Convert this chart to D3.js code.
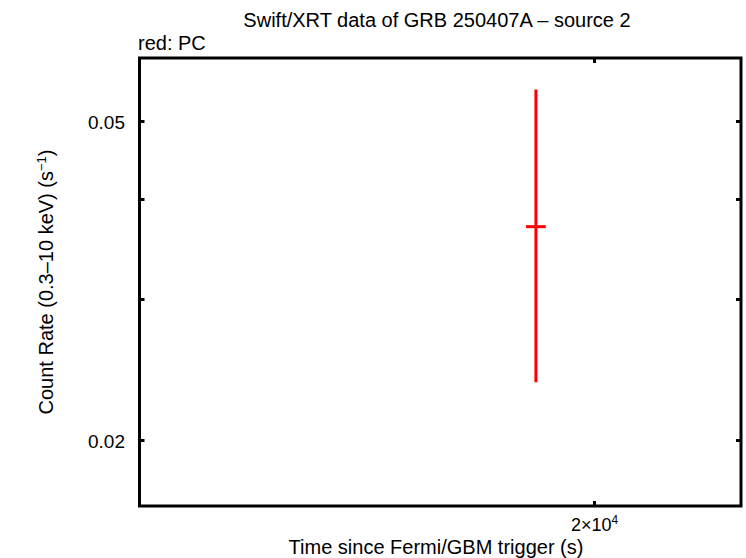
<!DOCTYPE html>
<html>
<head>
<meta charset="utf-8">
<script src="https://cdn.jsdelivr.net/npm/d3@7"></script>
<style>
  body { margin: 0; background: #fff; }
  text { font-family: "Liberation Sans", Arial, sans-serif; fill: #000; }
</style>
</head>
<body>
<div id="chart"></div>
<script>
    var width = 746;
    var height = 558;

    // data
    var times = [19130];
    var timeErrLo = [145];
    var timeErrHi = [145];
    var rates = [0.0369];
    var rateLo = [0.0236];
    var rateHi = [0.0547];

    var yTickVals = [0.02, 0.03, 0.04, 0.05];
    var yTickLabels = ["0.02", "", "", "0.05"];
    var xTickVals = [20000];

    var pLeft = 139.5, pRight = 741, pTop = 58, pBottom = 506;

    var svg = d3.select("#chart")
          .append("svg")
          .attr("width", width)
          .attr("height", height);

    var x = d3.scaleLog().domain([14100, 22400]).range([pLeft, pRight]);
    var y = d3.scaleLog().domain([0.01654, 0.0599]).range([pBottom, pTop]);

    // frame
    svg.append("rect")
       .attr("x", pLeft).attr("y", pTop)
       .attr("width", pRight - pLeft).attr("height", pBottom - pTop)
       .attr("fill", "none").attr("stroke", "#000").attr("stroke-width", 3);

    // y ticks, left and right, pointing inward
    yTickVals.forEach(function(v, i){
      var yy = Math.round(y(v)) + 0.5;
      svg.append("line").attr("x1", pLeft).attr("x2", pLeft + 5)
         .attr("y1", yy).attr("y2", yy).attr("stroke", "#000").attr("stroke-width", 3);
      svg.append("line").attr("x1", pRight).attr("x2", pRight - 5)
         .attr("y1", yy).attr("y2", yy).attr("stroke", "#000").attr("stroke-width", 3);
      if (yTickLabels[i]) {
        svg.append("text").attr("x", 125).attr("y", yy + 7)
           .attr("text-anchor", "end").attr("font-size", 19)
           .text(yTickLabels[i]);
      }
    });

    // x ticks, bottom and top
    xTickVals.forEach(function(v){
      var xx = Math.round(x(v)) + 0.5;
      svg.append("line").attr("x1", xx).attr("x2", xx)
         .attr("y1", pBottom).attr("y2", pBottom - 5).attr("stroke", "#000").attr("stroke-width", 3);
      svg.append("line").attr("x1", xx).attr("x2", xx)
         .attr("y1", pTop).attr("y2", pTop + 5).attr("stroke", "#000").attr("stroke-width", 3);
      var exp = Math.floor(Math.log10(v));
      var mant = v / Math.pow(10, exp);
      var t = svg.append("text").attr("x", xx).attr("y", 531)
         .attr("text-anchor", "middle").attr("font-size", 18);
      t.append("tspan").text(mant + "\u00d710");
      t.append("tspan").attr("dy", -7).attr("font-size", 12).text(exp);
    });

    // data: error bars
    var g = svg.append("g");
    times.forEach(function(t, i){
      g.append("line")
       .attr("x1", x(t)).attr("x2", x(t))
       .attr("y1", y(rateHi[i])).attr("y2", y(rateLo[i]))
       .attr("stroke", "#ff0000").attr("stroke-width", 3);
      g.append("line")
       .attr("x1", x(t - timeErrLo[i])).attr("x2", x(t + timeErrHi[i]))
       .attr("y1", y(rates[i])).attr("y2", y(rates[i]))
       .attr("stroke", "#ff0000").attr("stroke-width", 3);
    });

    // titles
    svg.append("text").attr("x", 437).attr("y", 27)
       .attr("text-anchor", "middle").attr("font-size", 20)
       .text("Swift/XRT data of GRB 250407A \u2013 source 2");

    svg.append("text").attr("x", 138).attr("y", 50)
       .attr("font-size", 20).text("red: PC");

    svg.append("text").attr("x", 436).attr("y", 554)
       .attr("text-anchor", "middle").attr("font-size", 20)
       .text("Time since Fermi/GBM trigger (s)");

    var yl = svg.append("text")
       .attr("transform", "translate(53,282) rotate(-90)")
       .attr("text-anchor", "middle").attr("font-size", 20);
    yl.append("tspan").text("Count Rate (0.3\u201310 keV) (s");
    yl.append("tspan").attr("dy", -7).attr("font-size", 13).text("\u22121");
    yl.append("tspan").attr("dy", 7).text(")");
</script>
</body>
</html>
